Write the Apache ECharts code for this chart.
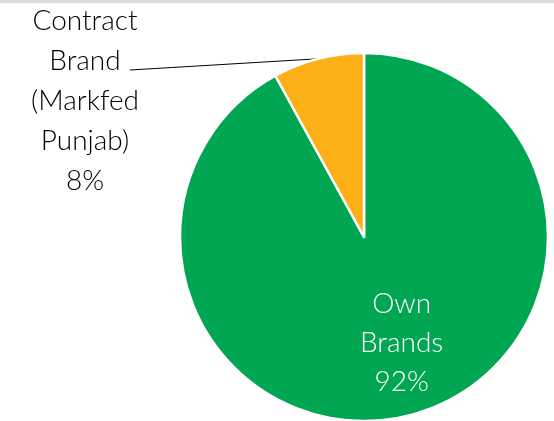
<!DOCTYPE html>
<html>
<head>
<meta charset="utf-8">
<script src="https://cdn.jsdelivr.net/npm/echarts@6/dist/echarts.min.js"></script>
<style>
  html, body { margin: 0; padding: 0; background: #ffffff; }
  #chart { width: 554px; height: 421px; }
</style>
</head>
<body>
<div id="chart"></div>
<script>
// Brand share of sales
const categories = ['Own Brands', 'Contract Brand (Markfed Punjab)'];
const labelTexts = ['Own\nBrands', 'Contract\nBrand\n(Markfed\nPunjab)'];
const shares = [92, 8];
const colors = ['#00A651', '#FCAF17'];

const chart = echarts.init(document.getElementById('chart'), null, { renderer: 'canvas' });

const data = categories.map((name, i) => ({
  name: name,
  value: shares[i],
  itemStyle: { color: colors[i] },
  label: i === 0
    ? { position: 'inside', color: '#ffffff', offset: [14, 14], lineHeight: 39 }
    : { position: 'outside', color: '#000000', lineHeight: 40 },
  labelLine: { show: i !== 0 }
}));

chart.setOption({
  animation: false,
  graphic: [{
    type: 'rect',
    shape: { x: 0, y: 0, width: 554, height: 3 },
    style: { fill: '#dcdcdc' },
    silent: true
  }],
  series: [{
    type: 'pie',
    center: [364, 237],
    radius: 184,
    startAngle: 90,
    clockwise: true,
    avoidLabelOverlap: false,
    itemStyle: { borderColor: '#ffffff', borderWidth: 2.5 },
    label: {
      show: true,
      fontFamily: 'Lato',
      fontWeight: 300,
      fontSize: 28,
      align: 'center',
      formatter: p => labelTexts[p.dataIndex] + '\n' + p.value + '%'
    },
    labelLine: {
      show: true,
      length: 0,
      length2: 150,
      lineStyle: { color: '#000000', width: 1 }
    },
    labelLayout: function (params) {
      if (params.dataIndex !== 1) return {};
      // Place the outer label block at the upper left and run its leader
      // from the slice edge to the right end of the second text line.
      const lx = 85, ly = 101;
      const start = params.labelLinePoints ? params.labelLinePoints[0] : null;
      const out = { x: lx, y: ly, align: 'center', verticalAlign: 'middle' };
      if (start) {
        const end = [lx + 45, ly - 31];
        out.labelLinePoints = [start, end, end];
      }
      return out;
    },
    data: data
  }]
});
</script>
</body>
</html>
